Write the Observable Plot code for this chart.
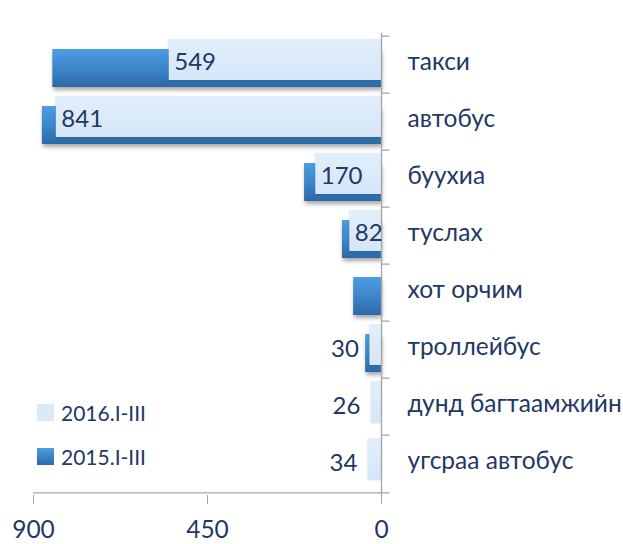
<!DOCTYPE html>
<html>
<head>
<meta charset="utf-8">
<script src="https://cdn.jsdelivr.net/npm/d3@7"></script>
<script src="https://cdn.jsdelivr.net/npm/@observablehq/plot@0.6"></script>
<style>
  html, body { margin: 0; padding: 0; background: #fff; }
  #wrap { position: relative; width: 623px; height: 544px; font-family: Lato, "Open Sans", sans-serif; }
  #legend { position: absolute; left: 37px; top: 400px; color: #1f3864; font-size: 21px; }
  .li { display: flex; align-items: center; height: 24px; margin-bottom: 20px; }
  .sw { width: 17px; height: 17px; margin-right: 7px; }
</style>
</head>
<body>
<div id="wrap"><div id="legend"></div></div>
<script>
const categories = ["такси", "автобус", "буухиа", "туслах", "хот орчим", "троллейбус", "дунд багтаамжийн", "угсраа автобус"];
const values2016 = [549, 841, 170, 82, 0, 30, 26, 34];
const values2015 = [850, 877, 199, 101, 72, 41, 0, 0];
const seriesNames = ["2016.I-III", "2015.I-III"];
const xTicks = [0, 450, 900];

const rows = categories.map((c, i) => ({cat: c, v16: values2016[i], v15: values2015[i]}));

const W = 623, H = 544, mT = 33, mB = 49, mL = 33, mR = 242;
const bw = (H - mT - mB) / categories.length;
const navy = "#1f3864", grey = "#a6a6a6";

const chart = Plot.plot({
  width: W, height: H,
  marginTop: mT, marginBottom: mB, marginLeft: mL, marginRight: mR,
  style: {fontFamily: "Lato, 'Open Sans', sans-serif", background: "transparent", overflow: "visible"},
  x: {domain: [0, 900], reverse: true, axis: null},
  y: {domain: categories, padding: 0, axis: null},
  marks: [
    Plot.barX(rows, {y: "cat", x1: 0, x2: "v15", fill: "url(#darkGrad)", insetTop: 13, insetBottom: 6}),
    Plot.barX(rows, {y: "cat", x1: 0, x2: "v16", fill: "url(#lightGrad)", insetTop: 3, insetBottom: 13}),
    Plot.ruleX([0], {stroke: grey, strokeWidth: 1.3}),
    Plot.ruleY(categories, {y: d => d, x1: 0, x2: -22, dy: -bw / 2, stroke: grey, strokeWidth: 1.3}),
    Plot.ruleY([categories[categories.length - 1]], {y: d => d, x1: 900, x2: -22, dy: bw / 2, stroke: grey, strokeWidth: 1.3}),
    Plot.axisX({anchor: "bottom", ticks: xTicks, tickSize: 9, tickPadding: 16, fontSize: 24.5, stroke: grey, fill: navy, tickFormat: d => String(d)}),
    Plot.text(rows.filter(d => d.v16 >= 50), {y: "cat", x: "v16", text: d => String(d.v16), textAnchor: "start", dx: 5, dy: -3, fontSize: 24, fill: navy}),
    Plot.text(rows.filter(d => d.v16 > 0 && d.v16 < 50), {y: "cat", x: "v16", text: d => String(d.v16), textAnchor: "end", dx: -11, dy: -1, fontSize: 24, fill: navy}),
    Plot.text(categories, {y: d => d, frameAnchor: "right", dx: 26, dy: -3, textAnchor: "start", fontSize: 24.5, fill: navy})
  ]
});

const ns = "http://www.w3.org/2000/svg";
const defs = document.createElementNS(ns, "defs");
defs.innerHTML = `
  <linearGradient id="darkGrad" x1="0" y1="0" x2="0" y2="1">
    <stop offset="0" stop-color="#4d9de2"/>
    <stop offset="0.5" stop-color="#3d86cc"/>
    <stop offset="1" stop-color="#2c69a6"/>
  </linearGradient>
  <linearGradient id="lightGrad" x1="0" y1="0" x2="0" y2="1">
    <stop offset="0" stop-color="#e2eefb"/>
    <stop offset="1" stop-color="#d5e6f8"/>
  </linearGradient>`;
chart.insertBefore(defs, chart.firstChild);
const bars = chart.querySelectorAll('g[aria-label="bar"]');
if (bars[0]) bars[0].style.filter = "drop-shadow(1px 3px 2px rgba(0,0,0,0.35))";
if (bars[1]) bars[1].style.filter = "drop-shadow(0px 1px 1px rgba(0,0,0,0.15))";

document.getElementById("wrap").insertBefore(chart, document.getElementById("legend"));

const legend = document.getElementById("legend");
[["#dbe9fa", seriesNames[0]], ["linear-gradient(#4d9de2, #2c69a6)", seriesNames[1]]].forEach(([c, name]) => {
  const li = document.createElement("div");
  li.className = "li";
  const sw = document.createElement("span");
  sw.className = "sw";
  sw.style.background = c;
  const t = document.createElement("span");
  t.textContent = name;
  li.appendChild(sw); li.appendChild(t);
  legend.appendChild(li);
});
</script>
</body>
</html>
